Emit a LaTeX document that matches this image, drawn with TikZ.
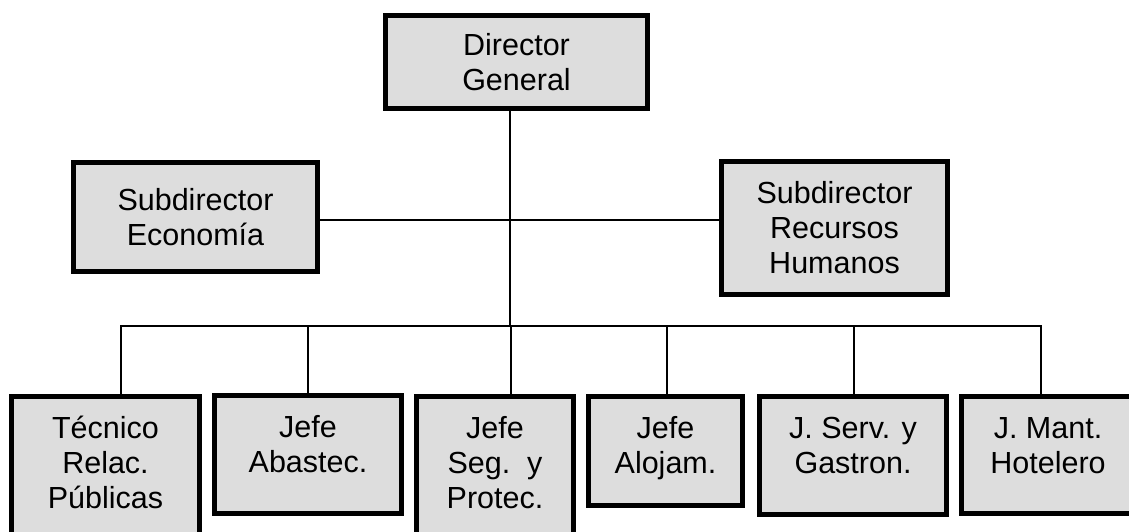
\documentclass[tikz,border=0pt]{standalone}
\usepackage{fontspec}
\setmainfont{Liberation Sans}
\definecolor{boxgray}{RGB}{221,221,221}
\begin{document}
\begin{tikzpicture}[x=1pt,y=-1pt,
  box/.style={draw=black, line width=5pt, fill=boxgray, inner sep=0pt, align=center,
    font=\fontsize{30.5}{35}\selectfont},
  lbl/.style={anchor=base, inner sep=0pt, font=\fontsize{30.5}{35}\selectfont},
  conn/.style={line width=1.5pt, draw=black}]
\useasboundingbox (0,0) rectangle (1129,531);
% top levels
\node[box, minimum width=262pt, minimum height=93pt] (dg) at (516.5,62) {Director\\General};
\node[box, minimum width=244pt, minimum height=109pt] (se) at (195.5,217) {Subdirector\\Economía};
\node[box, minimum width=226pt, minimum height=133pt] (srh) at (834.5,228) {Subdirector\\Recursos\\Humanos};
% bottom boxes
\node[box, minimum width=188pt, minimum height=151pt] (tec) at (105.5,472) {};
\node[box, minimum width=187pt, minimum height=118pt] (aba) at (308,454.5) {};
\node[box, minimum width=157pt, minimum height=151pt] (pro) at (495,472) {};
\node[box, minimum width=154pt, minimum height=109pt] (alo) at (665.5,451) {};
\node[box, minimum width=187pt, minimum height=118pt] (gas) at (853,455.5) {};
\node[box, minimum width=173pt, minimum height=117pt] (hot) at (1048,455) {};
% labels of bottom boxes
\node[lbl] (tect) at ([yshift=-44pt]tec.north) {\begin{tabular}[t]{@{}c@{}}Técnico\\Relac.\\Públicas\end{tabular}};
\node[lbl] (abat) at ([yshift=-44pt]aba.north) {\begin{tabular}[t]{@{}c@{}}Jefe\\Abastec.\end{tabular}};
\node[lbl] (prot) at ([yshift=-44pt]pro.north) {\begin{tabular}[t]{@{}c@{}}Jefe\\Seg.\ \ y\\Protec.\end{tabular}};
\node[lbl] (alot) at ([yshift=-44pt]alo.north) {\begin{tabular}[t]{@{}c@{}}Jefe\\Alojam.\end{tabular}};
\node[lbl] (gast) at ([yshift=-44pt]gas.north) {\begin{tabular}[t]{@{}c@{}}J. Serv. y\\Gastron.\end{tabular}};
\node[lbl] (hott) at ([yshift=-44pt]hot.north) {\begin{tabular}[t]{@{}c@{}}J. Mant.\\Hotelero\end{tabular}};
% connectors
\coordinate (hub) at (510,326);
\draw[conn] ([xshift=-6.5pt]dg.south) -- (hub);
\draw[conn] ([yshift=-3pt]se.east) -- ([yshift=-3pt]se.east -| srh.west);
\draw[conn] (hub) -| ([xshift=15.5pt]tec.north);
\draw[conn] (hub) -| (aba.north);
\draw[conn] (hub) -| ([xshift=16pt]pro.north);
\draw[conn] (hub) -| ([xshift=1.5pt]alo.north);
\draw[conn] (hub) -| ([xshift=1pt]gas.north);
\draw[conn] (hub) -| ([xshift=-7pt]hot.north);
\end{tikzpicture}
\end{document}
